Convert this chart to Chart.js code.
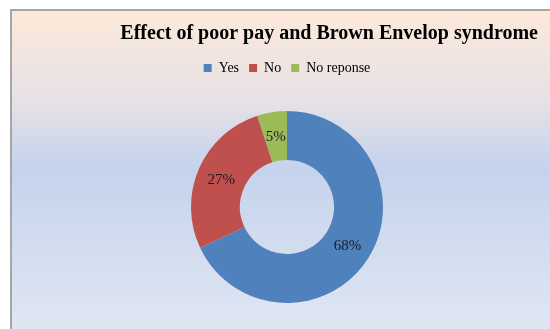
<!DOCTYPE html>
<html>
<head>
<meta charset="utf-8">
<script src="https://cdn.jsdelivr.net/npm/chart.js@4"></script>
<style>
  html, body { margin: 0; padding: 0; background: #fff; }
  #wrap {
    position: relative;
    width: 550px;
    height: 329px;
    overflow: hidden;
  }
  #frame {
    position: absolute;
    left: 10px;
    top: 9px;
    width: 600px;
    height: 400px;
    border: 2px solid #a6a6a6;
    background: linear-gradient(to bottom, #fde9d9 0px, #e6e1e6 90px, #c4d3ec 158px, #d3ddf0 240px, #e0e6f3 320px);
  }
  #chart { position: absolute; left: 0; top: 0; }
</style>
</head>
<body>
<div id="wrap">
  <div id="frame"></div>
  <canvas id="chart" width="550" height="329"></canvas>
</div>
<script>
  const labels = ['Yes', 'No', 'No reponse']
  const shares = [68, 27, 5]
  const colors = ['#4f81bd', '#c0504d', '#9bbb59']

  // extra room under the legend before the ring starts
  const legendGap = {
    id: 'legendGap',
    beforeInit(chart) {
      const fit = chart.legend.fit
      chart.legend.fit = function () {
        fit.call(this)
        this.height += 26
      }
    }
  }

  // percentage labels in the middle of each ring segment
  const sliceLabels = {
    id: 'sliceLabels',
    afterDatasetsDraw(chart) {
      const ctx = chart.ctx
      const meta = chart.getDatasetMeta(0)
      ctx.save()
      ctx.font = '15px "Liberation Serif", "Times New Roman", serif'
      ctx.fillStyle = '#1a1a2a'
      ctx.textAlign = 'center'
      ctx.textBaseline = 'middle'
      meta.data.forEach(function (arc, i) {
        const p = arc.tooltipPosition()
        ctx.fillText(shares[i] + '%', p.x, p.y + 1)
      })
      ctx.restore()
    }
  }

  new Chart('chart', {
    type: 'doughnut',
    data: {
      labels: labels,
      datasets: [{
        data: shares,
        backgroundColor: colors,
        borderWidth: 0
      }]
    },
    options: {
      responsive: false,
      animation: false,
      cutout: '49%',
      layout: { padding: { left: 36, right: 12, top: 0, bottom: 26 } },
      plugins: {
        tooltip: { enabled: false },
        title: {
          display: true,
          text: 'Effect of poor pay and Brown Envelop syndrome',
          align: 'end',
          color: '#000',
          font: { family: '"Liberation Serif", "Times New Roman", serif', size: 20, weight: 'bold' },
          padding: { top: 22, bottom: 5 }
        },
        legend: {
          display: true,
          position: 'top',
          labels: {
            color: '#000',
            font: { family: '"Liberation Serif", "Times New Roman", serif', size: 14 },
            boxWidth: 8,
            boxHeight: 8,
            padding: 10
          }
        }
      }
    },
    plugins: [legendGap, sliceLabels]
  });
</script>
</body>
</html>
